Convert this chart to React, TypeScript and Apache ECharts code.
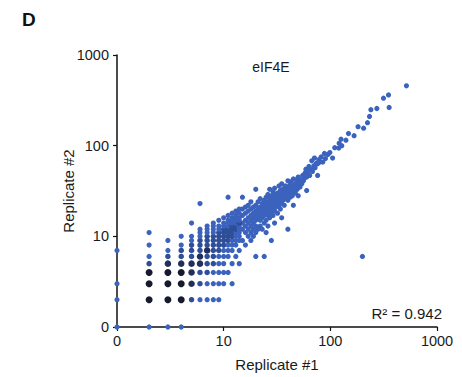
import React, { useEffect, useRef } from "react";
import * as echarts from "echarts";

// Replicate #1 / Replicate #2 read counts (log-scaled axes, 0 drawn at the origin)
const axisTickValues = [0, 1, 2, 3];
const axisTickLabels = ["0", "10", "100", "1000"];

// points lying on the axes: [rep1, rep2]
const axisPoints: number[][] = [
  [0, 0], [0, 2], [0, 3], [0, 7], [2, 0], [3, 0], [4, 0],
];

// low-count integer grid: [rep1, rep2, number of overlapping genes]
const gridPoints: number[][] = [
  [2, 2, 5], [2, 3, 5], [2, 4, 4], [2, 5, 2], [2, 6, 1], [2, 8, 1], [2, 11, 1],
  [3, 2, 5], [3, 3, 5], [3, 4, 4], [3, 5, 3], [3, 6, 2], [3, 7, 1], [3, 9, 1],
  [4, 2, 4], [4, 3, 4], [4, 4, 4], [4, 5, 3], [4, 6, 2], [4, 7, 2], [4, 8, 1], [4, 10, 1],
  [5, 2, 2], [5, 3, 3], [5, 4, 3], [5, 5, 3], [5, 6, 2], [5, 7, 2], [5, 8, 2], [5, 9, 1], [5, 10, 1], [5, 14, 1],
  [6, 2, 1], [6, 3, 2], [6, 4, 2], [6, 5, 3], [6, 6, 3], [6, 7, 2], [6, 8, 2], [6, 9, 2], [6, 10, 1], [6, 11, 1], [6, 12, 1], [6, 23, 1],
  [7, 2, 1], [7, 3, 1], [7, 4, 2], [7, 5, 2], [7, 6, 2], [7, 7, 3], [7, 8, 2], [7, 9, 2], [7, 10, 2], [7, 11, 1], [7, 12, 1], [7, 13, 1],
  [8, 2, 1], [8, 3, 1], [8, 4, 1], [8, 5, 2], [8, 6, 2], [8, 7, 2], [8, 8, 2], [8, 9, 2], [8, 10, 2], [8, 11, 1], [8, 12, 1], [8, 13, 1], [8, 14, 1],
  [9, 2, 1], [9, 3, 1], [9, 4, 1], [9, 5, 1], [9, 6, 1], [9, 7, 2], [9, 8, 2], [9, 9, 2], [9, 10, 2], [9, 11, 2], [9, 12, 1], [9, 13, 1], [9, 15, 1],
  [10, 3, 1], [10, 4, 1], [10, 5, 1], [10, 6, 1], [10, 7, 1], [10, 8, 2], [10, 9, 2], [10, 10, 2], [10, 11, 2], [10, 12, 2], [10, 13, 1], [10, 14, 1], [10, 16, 1],
  [11, 4, 1], [11, 6, 1], [11, 7, 1], [11, 8, 1], [11, 9, 2], [11, 10, 2], [11, 11, 2], [11, 12, 2], [11, 13, 1], [11, 14, 1], [11, 15, 1], [11, 17, 1], [11, 27, 1],
  [12, 3, 1], [12, 5, 1], [12, 7, 1], [12, 8, 1], [12, 9, 1], [12, 10, 2], [12, 11, 2], [12, 12, 2], [12, 13, 2], [12, 14, 1], [12, 15, 1], [12, 16, 1], [12, 18, 1],
  [13, 6, 1], [13, 8, 1], [13, 9, 1], [13, 10, 1], [13, 11, 1], [13, 12, 2], [13, 13, 2], [13, 14, 1], [13, 15, 1], [13, 16, 1], [13, 17, 1], [13, 19, 1],
  [14, 5, 1], [14, 7, 1], [14, 9, 1], [14, 10, 1], [14, 11, 1], [14, 12, 1], [14, 13, 1], [14, 14, 2], [14, 15, 1], [14, 16, 1], [14, 18, 1], [14, 20, 1],
];

// higher-count genes: [rep1, rep2]
const bandPoints: number[][] = [
  [15, 9], [15, 12], [15, 14], [15, 17], [15, 20], [15, 27], [16, 8], [16, 11], [16, 13], [16, 15], [16, 18], [16, 21],
  [17, 10], [17, 12], [17, 14], [17, 16], [17, 19], [17, 22], [18, 9], [18, 11], [18, 13], [18, 15], [18, 17], [18, 20], [18, 24],
  [19, 10], [19, 12], [19, 14], [19, 16], [19, 18], [19, 21], [20, 6], [20, 11], [20, 13], [20, 15], [20, 17], [20, 19], [20, 22], [20, 33],
  [21, 12], [21, 16], [21, 18], [21, 20], [21, 24], [22, 13], [22, 15], [22, 17], [22, 19], [22, 21], [22, 26],
  [23, 12], [23, 16], [23, 18], [23, 20], [23, 23], [24, 6], [24, 14], [24, 17], [24, 19], [24, 22], [24, 25],
  [25, 11], [25, 15], [25, 18], [25, 20], [25, 23], [25, 27], [26, 13], [26, 17], [26, 21], [26, 24], [26, 29],
  [27, 16], [27, 19], [27, 22], [27, 26], [27, 33], [28, 9], [28, 18], [28, 21], [28, 24], [28, 28],
  [29, 17], [29, 20], [29, 23], [29, 27], [29, 31], [30, 14], [30, 19], [30, 22], [30, 25], [30, 29], [30, 34],
  [31, 21], [31, 24], [31, 28], [32, 18], [32, 23], [32, 26], [32, 30], [33, 22], [33, 25], [33, 29], [33, 36],
  [34, 20], [34, 24], [34, 27], [34, 32], [35, 16], [35, 23], [35, 28], [35, 31], [35, 38], [36, 25], [36, 29], [36, 33],
  [37, 22], [37, 27], [37, 34], [38, 26], [38, 30], [38, 36], [39, 28], [39, 32], [40, 12], [40, 25], [40, 30], [40, 35], [40, 41],
  [41, 29], [41, 33], [42, 27], [42, 31], [42, 37], [43, 30], [43, 34], [43, 40], [44, 28], [44, 33], [45, 22], [45, 31], [45, 36], [45, 43],
  [46, 34], [47, 30], [47, 38], [48, 35], [48, 42], [49, 33], [50, 28], [50, 37], [50, 45], [51, 40], [52, 35], [53, 42], [54, 38],
  [55, 47], [56, 41], [57, 44], [58, 50], [59, 55], [60, 32], [60, 45], [61, 49], [62, 53], [63, 59], [64, 47], [66, 55], [67, 68],
  [68, 52], [70, 60], [71, 73], [72, 57], [74, 64], [76, 47], [76, 63], [78, 70], [80, 66], [82, 75], [85, 66], [88, 82],
  [90, 72], [95, 80], [99, 84], [105, 73], [110, 95], [120, 94], [121, 106], [126, 118], [128, 100], [140, 115],
  [148, 136], [167, 129], [182, 162], [205, 156], [223, 179], [233, 210], [240, 249], [273, 257], [315, 334],
  [351, 363], [356, 264], [517, 457], [200, 6],
];

const title = "eIF4E";
const panelLetter = "D";
const rSquared = "R² = 0.942";
const xName = "Replicate #1";
const yName = "Replicate #2";

const tr = (v: number) => (v > 0 ? Math.log10(v) : 0);

const styleFor = (n: number) => {
  if (n >= 4) return { size: 7, color: "#161a2c" };
  if (n === 3) return { size: 6.5, color: "#232f58" };
  if (n === 2) return { size: 5.5, color: "#2f4e98" };
  return { size: 5.2, color: "#3b63bd" };
};

export default function App() {
  const ref = useRef<HTMLDivElement>(null);
  useEffect(() => {
    if (!ref.current) return;
    document.body.style.margin = "0";
    const chart = echarts.init(ref.current, null, { renderer: "svg" });
    const font = "'Liberation Sans', Arial, Helvetica, sans-serif";
    const data: any[] = [];
    axisPoints.forEach(([a, b]) => {
      const s = styleFor(1);
      data.push({ value: [tr(a), tr(b)], symbolSize: s.size, itemStyle: { color: s.color } });
    });
    bandPoints.forEach(([a, b]) => {
      const s = styleFor(1);
      data.push({ value: [tr(a), tr(b)], symbolSize: s.size, itemStyle: { color: s.color } });
    });
    gridPoints.forEach(([a, b, n]) => {
      const s = styleFor(n);
      data.push({ value: [tr(a), tr(b)], symbolSize: s.size, itemStyle: { color: s.color } });
    });
    const fmt = (v: number) => {
      const i = axisTickValues.indexOf(Math.round(v));
      return i >= 0 ? axisTickLabels[i] : "";
    };
    chart.setOption({
      animation: false,
      backgroundColor: "#ffffff",
      textStyle: { fontFamily: font },
      grid: { left: 117, right: 25, top: 55, bottom: 50, containLabel: false },
      xAxis: {
        type: "value",
        min: 0,
        max: 3,
        interval: 1,
        name: xName,
        nameLocation: "middle",
        nameGap: 30,
        nameTextStyle: { fontSize: 15, color: "#1a1a1a", fontFamily: font },
        axisLine: { lineStyle: { color: "#111", width: 1.5 } },
        axisTick: { show: true, length: 4, lineStyle: { color: "#111", width: 1.2 } },
        axisLabel: { fontSize: 14.5, color: "#1a1a1a", margin: 6, formatter: fmt, fontFamily: font },
        splitLine: { show: false },
      },
      yAxis: {
        type: "value",
        min: 0,
        max: 3,
        interval: 1,
        axisLine: { lineStyle: { color: "#111", width: 1.5 } },
        axisTick: { show: true, length: 4, lineStyle: { color: "#111", width: 1.2 } },
        axisLabel: { fontSize: 14.5, color: "#1a1a1a", margin: 8, formatter: fmt, fontFamily: font },
        splitLine: { show: false },
      },
      series: [
        {
          type: "scatter",
          data,
          symbol: "circle",
          itemStyle: { opacity: 1 },
          emphasis: { disabled: true },
        },
      ],
      graphic: [
        { type: "text", left: 22, top: 10, style: { text: panelLetter, font: `bold 19px ${font}`, fill: "#111" } },
        { type: "text", x: 271, y: 67, style: { text: title, font: `14px ${font}`, fill: "#1a1a1a", textAlign: "center", textVerticalAlign: "middle" } },
        { type: "text", x: 442, y: 313, style: { text: rSquared, font: `15px ${font}`, fill: "#1a1a1a", textAlign: "right", textVerticalAlign: "middle" } },
        { type: "text", x: 68, y: 191, rotation: Math.PI / 2, style: { text: yName, font: `15px ${font}`, fill: "#1a1a1a", textAlign: "center", textVerticalAlign: "middle" } },
      ],
    });
    return () => chart.dispose();
  }, []);
  return <div ref={ref} style={{ width: 462, height: 377 }} />;
}
